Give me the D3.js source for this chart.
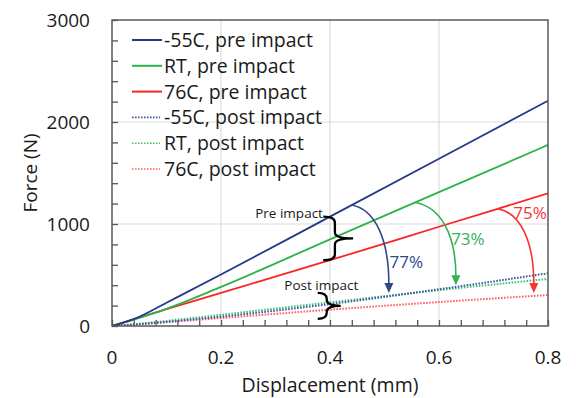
<!DOCTYPE html>
<html>
<head>
<meta charset="utf-8">
<script src="https://cdn.jsdelivr.net/npm/d3@7"></script>
<style>
  html, body { margin: 0; padding: 0; background: #fff; }
  svg { display: block; font-family: "Open Sans", Lato, sans-serif; }
</style>
</head>
<body>
<svg id="chart" width="576" height="398"></svg>
<script>
// Displacement samples (mm) shared by all curves
const displacement = [0, 0.05, 0.1, 0.2, 0.4, 0.6, 0.8];

// Force (N) for each test condition
const preM55  = [0, 90, 228, 505, 1072, 1640, 2209];
const preRT   = [0, 80, 168, 383, 850, 1312, 1775];
const pre76   = [0, 82, 165, 325, 645, 973, 1301];
const postM55 = [0, 18, 40, 92, 215, 360, 517];
const postRT  = [0, 22, 50, 110, 232, 352, 461];
const post76  = [0, 18, 38, 78, 160, 235, 304];

const seriesNames = ["-55C, pre impact", "RT, pre impact", "76C, pre impact",
                     "-55C, post impact", "RT, post impact", "76C, post impact"];

const xMajorTicks = [0, 0.2, 0.4, 0.6, 0.8];
const xTickLabels = ["0", "0.2", "0.4", "0.6", "0.8"];
const yMajorTicks = [0, 1000, 2000, 3000];
const yTickLabels = ["0", "1000", "2000", "3000"];

// Percentage retained after impact, arrow from pre curve to post curve
const dropLabels = ["77%", "73%", "75%"];
const dropStart  = [0.44, 0.556, 0.708];   // displacement on the pre curve
const dropEnd    = [0.508, 0.631, 0.774];  // displacement on the post curve
const labelAt    = [[0.54, 569], [0.653, 794], [0.767, 1049]]; // [mm, N] of each label baseline

const series = [
  { name: seriesNames[0], values: preM55,  color: "#26388a", dotted: false },
  { name: seriesNames[1], values: preRT,   color: "#2cb34a", dotted: false },
  { name: seriesNames[2], values: pre76,   color: "#fa2424", dotted: false },
  { name: seriesNames[3], values: postM55, color: "#3f58a6", dotted: true },
  { name: seriesNames[4], values: postRT,  color: "#45c26c", dotted: true },
  { name: seriesNames[5], values: post76,  color: "#ff6262", dotted: true }
];
const arrowColors = ["#2f4889", "#33b155", "#f53434"];

const svg = d3.select("#chart");
const plot = { left: 112, right: 548, top: 20, bottom: 326 };

const x = d3.scaleLinear().domain([0, 0.8]).range([plot.left, plot.right]);
const y = d3.scaleLinear().domain([0, 3000]).range([plot.bottom, plot.top]);

// value of a curve at any displacement, by linear interpolation between samples
function forceAt(values, d) {
  const i = Math.max(1, Math.min(displacement.length - 1, d3.bisectRight(displacement, d)));
  const d0 = displacement[i - 1], d1 = displacement[i];
  const t = (d - d0) / (d1 - d0);
  return values[i - 1] + t * (values[i] - values[i - 1]);
}

// gridlines
svg.append("g").selectAll("line").data(xMajorTicks.slice(1, -1)).join("line")
  .attr("x1", d => x(d)).attr("x2", d => x(d))
  .attr("y1", plot.top).attr("y2", plot.bottom)
  .attr("stroke", "#dcdcdc").attr("stroke-width", 1.2);
svg.append("g").selectAll("line").data(yMajorTicks.slice(1, -1)).join("line")
  .attr("x1", plot.left).attr("x2", plot.right)
  .attr("y1", d => y(d)).attr("y2", d => y(d))
  .attr("stroke", "#dcdcdc").attr("stroke-width", 1.2);

// inward minor ticks via d3 axes
const xAxis = d3.axisTop(x).tickValues(d3.range(0, 0.8001, 0.04)).tickSize(6).tickFormat("");
svg.append("g").attr("transform", `translate(0,${plot.bottom})`).call(xAxis)
  .call(g => g.select(".domain").remove())
  .call(g => g.selectAll("line").attr("stroke", "#555").attr("stroke-width", 1.3));
const yAxis = d3.axisRight(y).tickValues(d3.range(0, 3001, 200)).tickSize(6).tickFormat("");
svg.append("g").attr("transform", `translate(${plot.left},0)`).call(yAxis)
  .call(g => g.select(".domain").remove())
  .call(g => g.selectAll("line").attr("stroke", "#555").attr("stroke-width", 1.3));

// tick labels
svg.append("g").selectAll("text").data(xMajorTicks).join("text")
  .attr("x", d => x(d)).attr("y", plot.bottom + 38)
  .attr("text-anchor", "middle").attr("font-size", 19).attr("fill", "#1a1a1a")
  .text((d, i) => xTickLabels[i]);
svg.append("g").selectAll("text").data(yMajorTicks).join("text")
  .attr("x", plot.left - 22).attr("y", d => y(d) + 7)
  .attr("text-anchor", "end").attr("font-size", 19).attr("fill", "#1a1a1a")
  .text((d, i) => yTickLabels[i]);

// axis titles
svg.append("text").attr("x", 330).attr("y", 392)
  .attr("text-anchor", "middle").attr("font-size", 19.5).attr("fill", "#1a1a1a")
  .text("Displacement (mm)");
svg.append("text").attr("transform", `translate(37,${(plot.top + plot.bottom) / 2}) rotate(-90)`)
  .attr("text-anchor", "middle").attr("font-size", 19).attr("fill", "#1a1a1a")
  .text("Force (N)");

// curves
const line = d3.line().x((d, i) => x(displacement[i])).y(d => y(d)).curve(d3.curveMonotoneX);
svg.append("clipPath").attr("id", "plotclip").append("rect")
  .attr("x", plot.left).attr("y", plot.top)
  .attr("width", plot.right - plot.left).attr("height", plot.bottom - plot.top);
const curves = svg.append("g").attr("clip-path", "url(#plotclip)");
// dotted post-impact curves first so the solid ones sit on top
[...series].reverse().forEach(s => {
  curves.append("path").datum(s.values)
    .attr("d", line).attr("fill", "none")
    .attr("stroke", s.color)
    .attr("stroke-width", s.dotted ? 2 : 1.8)
    .attr("stroke-dasharray", s.dotted ? "1.6,1.4" : null);
});

// plot frame
svg.append("rect").attr("x", plot.left).attr("y", plot.top)
  .attr("width", plot.right - plot.left).attr("height", plot.bottom - plot.top)
  .attr("fill", "none").attr("stroke", "#595959").attr("stroke-width", 1.5);

// legend
const legend = svg.append("g");
series.forEach((s, i) => {
  const cy = 40 + i * 25.8;
  legend.append("line")
    .attr("x1", 132).attr("x2", s.dotted ? 160 : 162)
    .attr("y1", cy).attr("y2", cy)
    .attr("stroke", s.color).attr("stroke-width", s.dotted ? 1.6 : 2)
    .attr("stroke-dasharray", s.dotted ? "1.6,1.4" : null);
  legend.append("text").attr("x", 164).attr("y", cy + 7)
    .attr("font-size", 19.5).attr("fill", "#1a1a1a").text(s.name);
});

// drop arrows from pre-impact to post-impact curves
const arrows = svg.append("g");
dropLabels.forEach((label, i) => {
  const pre = series[i].values, post = series[i + 3].values;
  const x0 = x(dropStart[i]), y0 = y(forceAt(pre, dropStart[i]));
  const x1 = x(dropEnd[i]), y1 = y(forceAt(post, dropEnd[i])) - 3;
  const dx = x1 - x0, dy = y1 - y0;
  const headLen = 10, headHalf = 4.5;
  const yl = y1 - headLen + 1;
  const p = d3.path();
  p.moveTo(x0, y0);
  p.bezierCurveTo(x0 + 0.62 * dx, y0 + 0.05 * dy, x1, y0 + 0.38 * dy, x1, yl);
  arrows.append("path").attr("d", p.toString()).attr("fill", "none")
    .attr("stroke", arrowColors[i]).attr("stroke-width", 1.6);
  arrows.append("path")
    .attr("d", `M${x1},${y1}L${x1 - headHalf},${y1 - headLen}L${x1 + headHalf},${y1 - headLen}Z`)
    .attr("fill", arrowColors[i]);
});

// percentage labels next to each arrow
arrows.selectAll("text").data(dropLabels).join("text")
  .attr("x", (d, i) => x(labelAt[i][0])).attr("y", (d, i) => y(labelAt[i][1]))
  .attr("text-anchor", "middle").attr("font-size", 17)
  .attr("fill", (d, i) => arrowColors[i])
  .text(d => d);

// braces grouping the pre- and post-impact curves
function brace(g, xs, yTop, yBot, w) {
  const yMid = (yTop + yBot) / 2;
  const p = d3.path();
  p.moveTo(xs - w * 0.45, yTop);
  p.quadraticCurveTo(xs, yTop, xs, yTop + 6);
  p.lineTo(xs, yMid - 6);
  p.quadraticCurveTo(xs, yMid, xs + w * 0.7, yMid);
  p.quadraticCurveTo(xs, yMid, xs, yMid + 6);
  p.lineTo(xs, yBot - 6);
  p.quadraticCurveTo(xs, yBot, xs - w * 0.45, yBot);
  g.append("path").attr("d", p.toString()).attr("fill", "none")
    .attr("stroke", "#000").attr("stroke-width", 2.3);
}
const notes = svg.append("g");
brace(notes, x(0.409), y(forceAt(preM55, 0.4)), y(forceAt(pre76, 0.4)), 26);
brace(notes, x(0.394), y(325), y(70), 20);
notes.append("text").attr("x", x(0.387)).attr("y", y(1108) + 5)
  .attr("text-anchor", "end").attr("font-size", 13.5).attr("fill", "#1a1a1a")
  .text("Pre impact");
notes.append("text").attr("x", x(0.384)).attr("y", y(400) + 5)
  .attr("text-anchor", "middle").attr("font-size", 13.5).attr("fill", "#1a1a1a")
  .text("Post impact");
</script>
</body>
</html>
